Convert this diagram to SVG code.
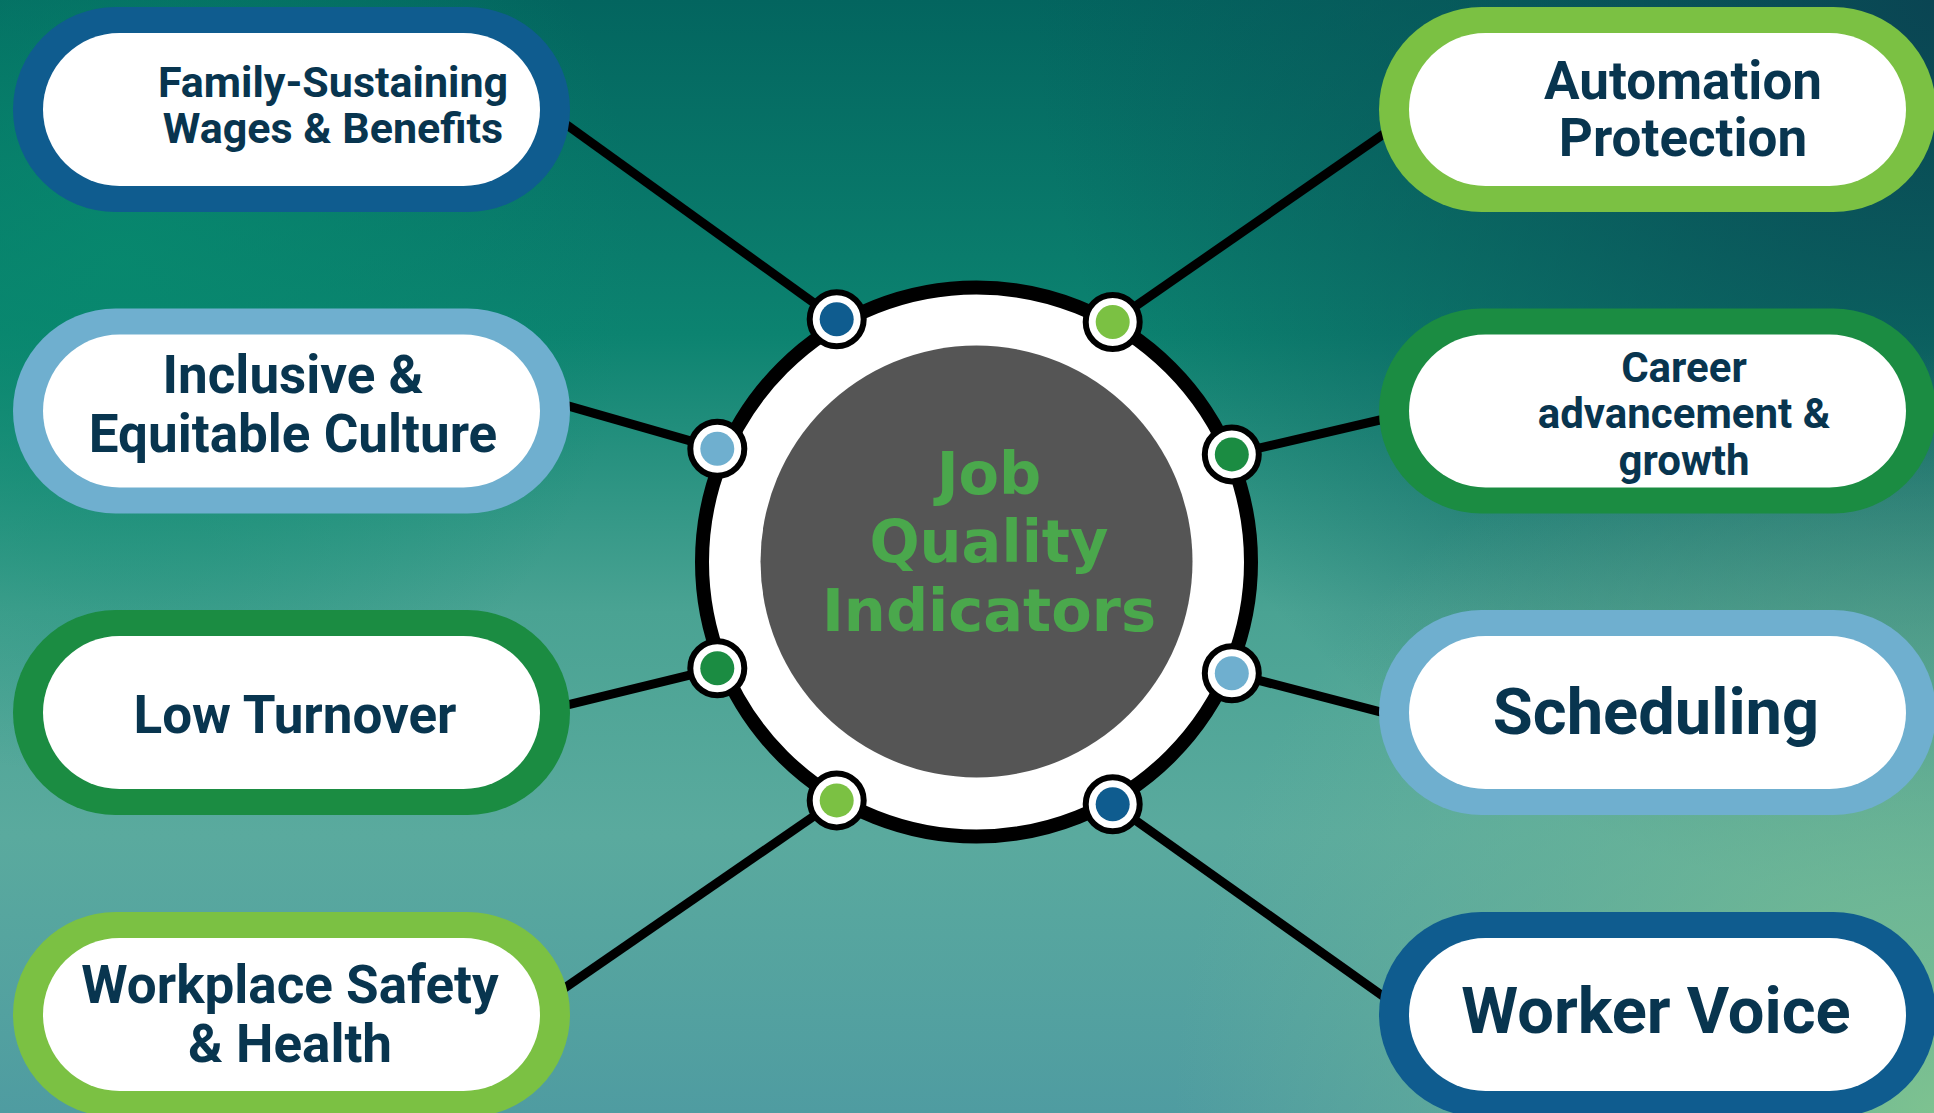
<svg xmlns="http://www.w3.org/2000/svg" width="1934" height="1113" viewBox="0 0 1934 1113">
  <defs>
    <linearGradient id="bgBase" x1="0" y1="0" x2="0" y2="1">
      <stop offset="0" stop-color="#03655f"/>
      <stop offset="0.3" stop-color="#0c8370"/>
      <stop offset="0.55" stop-color="#4aa393"/>
      <stop offset="0.75" stop-color="#5aaa9e"/>
      <stop offset="1" stop-color="#4f9ca1"/>
    </linearGradient>
    <radialGradient id="bgDark" cx="1934" cy="0" r="900" gradientUnits="userSpaceOnUse">
      <stop offset="0" stop-color="#0a4553" stop-opacity="1"/>
      <stop offset="0.5" stop-color="#0a4f57" stop-opacity="0.55"/>
      <stop offset="1" stop-color="#0a4f57" stop-opacity="0"/>
    </radialGradient>
    <radialGradient id="bgGreen" cx="120" cy="260" r="520" gradientUnits="userSpaceOnUse">
      <stop offset="0" stop-color="#078a6e" stop-opacity="0.8"/>
      <stop offset="1" stop-color="#078a6e" stop-opacity="0"/>
    </radialGradient>
    <radialGradient id="bgLight" cx="1934" cy="1113" r="760" gradientUnits="userSpaceOnUse">
      <stop offset="0" stop-color="#7dc290" stop-opacity="1"/>
      <stop offset="0.6" stop-color="#6cb596" stop-opacity="0.5"/>
      <stop offset="1" stop-color="#6cb596" stop-opacity="0"/>
    </radialGradient>
  </defs>
  <style>
    .link { stroke: #000; stroke-width: 9; fill: none; stroke-linecap: butt; }
    .ring { fill: #fff; stroke: #000; stroke-width: 14; }
    .core { fill: #555555; }
    .hub { fill: #fff; stroke: #000; stroke-width: 6; }
    .inner { fill: #fff; }
    .c-blue { fill: #0f5c8f; }
    .c-sky { fill: #6fafcf; }
    .c-green { fill: #1b8c42; }
    .c-lime { fill: #7bc143; }
    .label { font-family: Roboto, "Liberation Sans", sans-serif; font-weight: 700; fill: #08354f; text-anchor: middle; }
    .title { font-family: "DejaVu Sans", "Open Sans", sans-serif; font-weight: 700; fill: #4aa84c; text-anchor: middle; font-size: 59px; }
  </style>

  <!-- background -->
  <g id="background">
    <rect width="1934" height="1113" fill="url(#bgBase)"/>
    <rect width="1934" height="1113" fill="url(#bgGreen)"/>
    <rect width="1934" height="1113" fill="url(#bgDark)"/>
    <rect width="1934" height="1113" fill="url(#bgLight)"/>
  </g>

  <!-- spokes from the hub dots out to each indicator -->
  <g id="connectors">
    <line class="link" x1="836.7" y1="319.3" x2="540" y2="105.7"/>
    <line class="link" x1="717.3" y1="448.7" x2="540" y2="397.8"/>
    <line class="link" x1="717.3" y1="668.3" x2="540" y2="711.7"/>
    <line class="link" x1="836.7" y1="800.4" x2="540" y2="1005"/>
    <line class="link" x1="1112.7" y1="322" x2="1410" y2="115.7"/>
    <line class="link" x1="1231.8" y1="454.4" x2="1410" y2="413"/>
    <line class="link" x1="1231.8" y1="673.3" x2="1410" y2="719.6"/>
    <line class="link" x1="1112.7" y1="804.2" x2="1410" y2="1015.3"/>
  </g>

  <!-- central hub -->
  <g id="hub">
    <circle class="ring" cx="976.5" cy="562" r="274.5"/>
    <circle class="core" cx="976.5" cy="561.5" r="216"/>
    <text class="title" x="989" y="493.5">Job</text>
    <text class="title" x="989" y="562">Quality</text>
    <text class="title" x="989" y="631">Indicators</text>
  </g>

  <!-- dots on the hub ring -->
  <g id="hub-dots">
    <circle class="hub" cx="836.7" cy="319.3" r="27"/><circle class="c-blue" cx="836.7" cy="319.3" r="17"/>
    <circle class="hub" cx="717.3" cy="448.7" r="27"/><circle class="c-sky" cx="717.3" cy="448.7" r="17"/>
    <circle class="hub" cx="717.3" cy="668.3" r="27"/><circle class="c-green" cx="717.3" cy="668.3" r="17"/>
    <circle class="hub" cx="836.7" cy="800.4" r="27"/><circle class="c-lime" cx="836.7" cy="800.4" r="17"/>
    <circle class="hub" cx="1112.7" cy="322" r="27"/><circle class="c-lime" cx="1112.7" cy="322" r="17"/>
    <circle class="hub" cx="1231.8" cy="454.4" r="27"/><circle class="c-green" cx="1231.8" cy="454.4" r="17"/>
    <circle class="hub" cx="1231.8" cy="673.3" r="27"/><circle class="c-sky" cx="1231.8" cy="673.3" r="17"/>
    <circle class="hub" cx="1112.7" cy="804.2" r="27"/><circle class="c-blue" cx="1112.7" cy="804.2" r="17"/>
  </g>

  <!-- left column -->
  <g id="wages">
    <rect class="c-blue" x="13" y="7" width="557" height="205" rx="102.5"/>
    <rect class="inner" x="43" y="33" width="497" height="153" rx="76.5"/>
    <text class="label" x="333" y="97" font-size="43">Family-Sustaining</text>
    <text class="label" x="333" y="143" font-size="43">Wages &amp; Benefits</text>
  </g>
  <g id="culture">
    <rect class="c-sky" x="13" y="308.5" width="557" height="205" rx="102.5"/>
    <rect class="inner" x="43" y="334.5" width="497" height="153" rx="76.5"/>
    <text class="label" x="293" y="393" font-size="53">Inclusive &amp;</text>
    <text class="label" x="293" y="452" font-size="53">Equitable Culture</text>
  </g>
  <g id="turnover">
    <rect class="c-green" x="13" y="610" width="557" height="205" rx="102.5"/>
    <rect class="inner" x="43" y="636" width="497" height="153" rx="76.5"/>
    <text class="label" x="295" y="733" font-size="53">Low Turnover</text>
  </g>
  <g id="safety">
    <rect class="c-lime" x="13" y="912" width="557" height="205" rx="102.5"/>
    <rect class="inner" x="43" y="938" width="497" height="153" rx="76.5"/>
    <text class="label" x="290" y="1003" font-size="53">Workplace Safety</text>
    <text class="label" x="290" y="1062" font-size="53">&amp; Health</text>
  </g>

  <!-- right column -->
  <g id="automation">
    <rect class="c-lime" x="1379" y="7" width="557" height="205" rx="102.5"/>
    <rect class="inner" x="1409" y="33" width="497" height="153" rx="76.5"/>
    <text class="label" x="1683" y="99" font-size="53">Automation</text>
    <text class="label" x="1683" y="156" font-size="53">Protection</text>
  </g>
  <g id="career">
    <rect class="c-green" x="1379" y="308.5" width="557" height="205" rx="102.5"/>
    <rect class="inner" x="1409" y="334.5" width="497" height="153" rx="76.5"/>
    <text class="label" x="1684" y="382" font-size="42">Career</text>
    <text class="label" x="1684" y="428" font-size="42">advancement &amp;</text>
    <text class="label" x="1684" y="475" font-size="42">growth</text>
  </g>
  <g id="scheduling">
    <rect class="c-sky" x="1379" y="610" width="557" height="205" rx="102.5"/>
    <rect class="inner" x="1409" y="636" width="497" height="153" rx="76.5"/>
    <text class="label" x="1656" y="734" font-size="65">Scheduling</text>
  </g>
  <g id="voice">
    <rect class="c-blue" x="1379" y="912" width="557" height="205" rx="102.5"/>
    <rect class="inner" x="1409" y="938" width="497" height="153" rx="76.5"/>
    <text class="label" x="1656" y="1033" font-size="65">Worker Voice</text>
  </g>
</svg>
